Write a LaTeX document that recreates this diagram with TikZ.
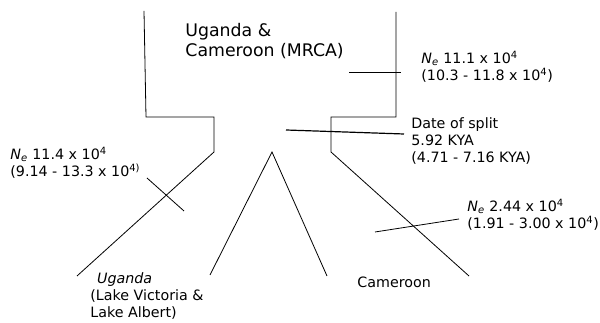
\documentclass[tikz,border=0pt]{standalone}
\usepackage{fontspec}
\setmainfont{DejaVu Sans}
\newcommand{\Ne}{\textit{N\textsubscript{e}}}
\begin{document}
\begin{tikzpicture}[x=0.75pt,y=-0.75pt,line width=0.6pt]
\tikzset{lbl/.style={anchor=base west,align=left,inner sep=0pt,font=\fontsize{10.7}{13.1}\selectfont}}
\useasboundingbox (0,0) rectangle (600,323);
% lineages
\draw (144,11) -- (146,117) -- (214,117) -- (214,152) -- (77,276);
\draw (396,12) -- (396,117) -- (331,117) -- (331,152) -- (469,276);
\draw (210,275) -- (272,152) -- (327,276);
% ticks
\draw (147,178) -- (184,211);
\draw (349,72) -- (401,72);
\draw[line width=0.9pt] (286,130) -- (404,134);
\draw (375,232) -- (459,219);
% labels (placed at the baseline of the last line)
\node[lbl,font=\fontsize{13}{15}\selectfont] (mrca) at (185,57) {Uganda \&\\Cameroon (MRCA)};
\node[lbl] (neanc) at (421,81) {\Ne{} 11.1 x 10\textsuperscript{4}\\(10.3 - 11.8 x 10\textsuperscript{4})};
\node[lbl] (split) at (411,163) {Date of split\\5.92 KYA\\(4.71 - 7.16 KYA)};
\node[lbl] (neug) at (10,177) {\Ne{} 11.4 x 10\textsuperscript{4}\\(9.14 - 13.3 x 10\textsuperscript{4)}};
\node[lbl] (necam) at (467,229) {\Ne{} 2.44 x 10\textsuperscript{4}\\(1.91 - 3.00 x 10\textsuperscript{4})};
\node[lbl] (ug) at (90,318) {\hspace{5pt}\textit{Uganda}\\(Lake Victoria \&\\Lake Albert)};
\node[lbl] (cam) at (357,288) {Cameroon};
\end{tikzpicture}
\end{document}
